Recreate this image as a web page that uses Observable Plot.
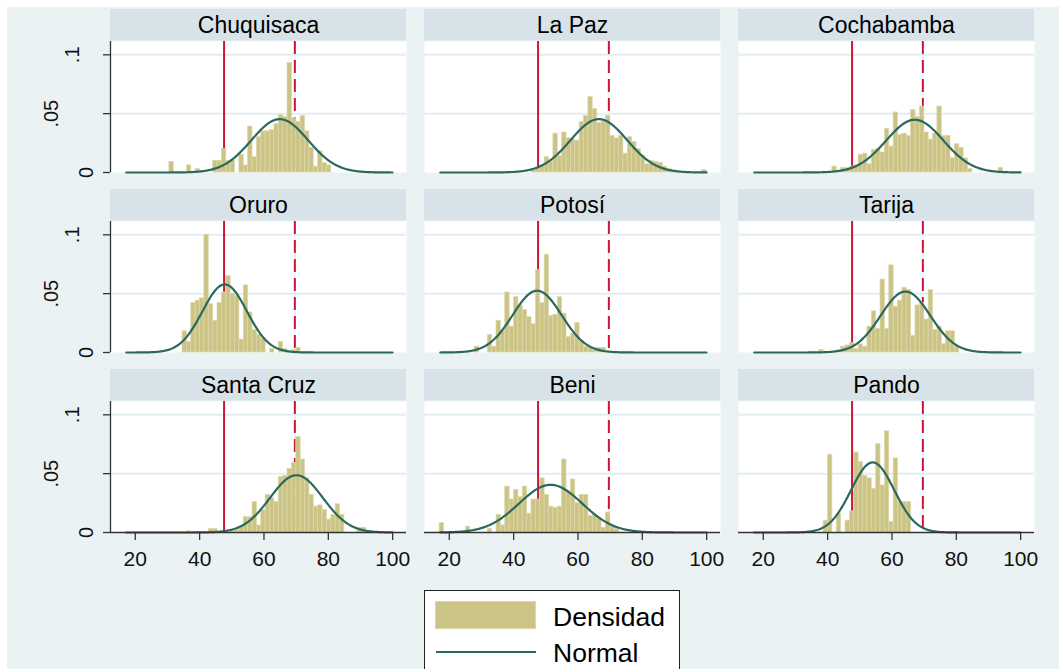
<!DOCTYPE html>
<html>
<head>
<meta charset="utf-8">
<script src="https://cdn.jsdelivr.net/npm/d3@7"></script>
<script src="https://cdn.jsdelivr.net/npm/@observablehq/plot@0.6"></script>
<style>
  html, body { margin: 0; padding: 0; background: #ffffff; width: 1059px; height: 669px; overflow: hidden; }
  #bg { position: absolute; left: 7px; top: 7px; width: 1052px; height: 662px; background: #eaf2f3; }
  #chart { position: absolute; left: 0; top: 0; }
  #legend { position: absolute; left: 424px; top: 590px; width: 254px; height: 90px; background: #fff; border: 1px solid #222;
            font-family: "Liberation Sans", Arial, sans-serif; }
  .sw { position: absolute; left: 10px; top: 10px; width: 101px; height: 28px; background: #ccc486; box-shadow: inset 0 0 0 1px #ddd8a8; }
  .ln { position: absolute; left: 11px; top: 60px; width: 100px; height: 0; border-top: 2.5px solid #29695e; }
  .lt { position: absolute; left: 128px; font-size: 26.5px; color: #000; line-height: 30px; }
</style>
</head>
<body>
<div id="bg"></div>
<div id="chart"></div>
<div id="legend">
  <div class="sw"></div><div class="lt" style="top:11px">Densidad</div>
  <div class="ln"></div><div class="lt" style="top:47px">Normal</div>
</div>
<script>
// ---------- data ----------
const departments = ["Chuquisaca", "La Paz", "Cochabamba", "Oruro", "Potosí", "Tarija", "Santa Cruz", "Beni", "Pando"];
const binStart = 17;
const binWidth = 1.36;
const firstBin = [10, 21, 18, 13, 8, 15, 14, 0, 16];

const densChuquisaca = [0.009,0,0,0,0.006,0,0.003,0,0,0,0.01,0.01,0.02,0.01,0.01,0,0.015,0.006,0.039,0.013,0.03,0.035,0.035,0.036,0.041,0.049,0.047,0.093,0.046,0.043,0.048,0.035,0.021,0.005,0.018,0.008,0.006];
const densLaPaz = [0.003,0.003,0.006,0.013,0.009,0.033,0.014,0.034,0.029,0.028,0.027,0.043,0.048,0.064,0.054,0.042,0.043,0.048,0.031,0.029,0.031,0.016,0.03,0.026,0.02,0.014,0.007,0.01,0.009,0.008,0.005,0.003,0.002,0,0,0,0,0,0,0.002];
const densCochabamba = [0.005,0,0.004,0.004,0.005,0.006,0.015,0.016,0.007,0.019,0.02,0.017,0.037,0.022,0.051,0.032,0.033,0.031,0.053,0.047,0.056,0.034,0.028,0.033,0.056,0.031,0.031,0.012,0.024,0.021,0.012,0.003,0,0,0,0,0,0,0.004];
const densOruro = [0.018,0.009,0.042,0.044,0.046,0.1,0.041,0.027,0.042,0.051,0.065,0.05,0.048,0.011,0.057,0.034,0.019,0.015,0.012,0,0.003,0,0.009,0.003,0,0.002,0.004];
const densPotosi = [0.005,0,0,0.015,0.005,0.027,0.018,0.051,0.022,0.047,0.04,0.036,0.03,0.024,0.07,0.042,0.083,0.031,0.032,0.047,0.033,0.013,0.016,0.025,0.009,0.005,0.004,0.002,0.004,0.004];
const densTarija = [0.002,0,0,0,0.002,0.005,0.006,0.008,0.003,0.007,0.005,0.022,0.035,0.02,0.062,0.02,0.074,0.039,0.044,0.055,0.053,0.014,0.04,0.042,0.028,0.053,0.019,0.022,0.007,0.018,0.018,0.005];
const densSantaCruz = [0.001,0,0,0,0,0.003,0.003,0,0,0,0.001,0.002,0.005,0.013,0.013,0.026,0.006,0.019,0.032,0.029,0.026,0.047,0.048,0.054,0.059,0.081,0.062,0.046,0.032,0.022,0.023,0.019,0.011,0.015,0.024,0.015,0,0,0,0.004,0.004];
const densBeni = [0.008,0,0,0,0,0,0.005,0,0,0,0,0.003,0,0.015,0.006,0.039,0.028,0.036,0.03,0.039,0.016,0.028,0.028,0.046,0.032,0.022,0.021,0.022,0.062,0.035,0.045,0.025,0.032,0.032,0.014,0.015,0.012,0.004,0.017,0.005,0.003];
const densPando = [0.01,0.066,0,0.016,0,0.01,0.018,0.068,0.06,0.048,0.046,0.037,0.075,0.04,0.086,0.009,0.063,0.026,0.026,0.026];

const normalMean = [64.9, 66.5, 67.1, 47.8, 47.3, 64.2, 70.1, 51.5, 54.0];
const normalSd   = [8.8, 8.8, 8.9, 6.9, 7.6, 7.7, 8.2, 9.85, 6.7];
const curveRange = [17.2, 100];

const cutoffSolid = 47.6;
const cutoffDashed = 69.6;

const xTicks = [20, 40, 60, 80, 100];
const yTicks = [0, 0.05, 0.1];
const yTickLabels = ["0", ".05", ".1"];
const xDomain = [12.3, 104.3];
const yDomain = [0, 0.1113];

// ---------- tables ----------
const densities = [densChuquisaca, densLaPaz, densCochabamba, densOruro, densPotosi, densTarija, densSantaCruz, densBeni, densPando];
const panels = departments.map((name, i) => ({name, col: i % 3, row: Math.floor(i / 3)}));
const leftPanels = panels.filter(p => p.col === 0);
const bottomPanels = panels.filter(p => p.row === 2);

const bars = [];
panels.forEach((p, i) => {
  densities[i].forEach((h, j) => {
    if (h > 0) {
      const b = firstBin[i] + j;
      bars.push({...p, x1: binStart + b * binWidth, x2: binStart + (b + 1) * binWidth, h});
    }
  });
});

const curve = [];
panels.forEach((p, i) => {
  const m = normalMean[i], s = normalSd[i];
  for (let x = curveRange[0]; x <= curveRange[1] + 1e-9; x += 0.25) {
    curve.push({...p, x, y: Math.exp(-0.5 * ((x - m) / s) ** 2) / (s * Math.sqrt(2 * Math.PI))});
  }
});

const grid = [];
panels.forEach(p => yTicks.filter(t => t > 0).forEach(t => grid.push({...p, t})));

// ---------- layout ----------
const W = 1059, H = 580;
const mTop = 41, mBottom = 47.7, mLeft = 109, mRight = 25.3;
const facetH = 131.1;
const perPx = (yDomain[1] - yDomain[0]) / facetH;
const headerY1 = yDomain[1] + 0.5 * perPx;
const headerY2 = yDomain[1] + 32 * perPx;

const font = "Liberation Sans, Arial, Helvetica, sans-serif";
const F = {fx: "col", fy: "row"};

const yLabel = (k, dx) => Plot.text(leftPanels, {...F, y: () => yTicks[k], text: () => yTickLabels[k],
  frameAnchor: "left", dx, rotate: -90, fontSize: 20, fill: "#111", textAnchor: "middle", lineAnchor: "middle"});

const chart = Plot.plot({
  width: W, height: H,
  marginTop: mTop, marginBottom: mBottom, marginLeft: mLeft, marginRight: mRight,
  style: {background: "transparent", fontFamily: font, overflow: "visible"},
  fx: {padding: 0.0583, axis: null},
  fy: {padding: 0.272, axis: null},
  x: {domain: xDomain},
  y: {domain: yDomain},
  marks: [
    Plot.frame({fill: "white", stroke: null}),
    Plot.rect(panels, {...F, x1: xDomain[0], x2: xDomain[1], y1: headerY1, y2: headerY2, fill: "#d8e3e9"}),
    Plot.text(panels, {...F, text: "name", frameAnchor: "top", lineAnchor: "middle", dy: -16, fontSize: 23, fill: "#000"}),
    Plot.ruleY(grid, {...F, y: "t", stroke: "#e4edf0", strokeWidth: 2}),
    Plot.ruleX(panels, {...F, x: () => cutoffSolid, stroke: "#cc1439", strokeWidth: 2}),
    Plot.ruleX(panels, {...F, x: () => cutoffDashed, stroke: "#cc1439", strokeWidth: 2, strokeDasharray: "13,6"}),
    Plot.rectY(bars, {...F, x1: "x1", x2: "x2", y: "h", fill: "#ccc486", stroke: "#ddd8a8", strokeWidth: 0.7}),
    Plot.line(curve, {...F, x: "x", y: "y", z: "name", stroke: "#29695e", strokeWidth: 2.2}),
    Plot.ruleX(leftPanels, {...F, x: () => xDomain[0], stroke: "#333", strokeWidth: 1.3}),
    Plot.ruleY(bottomPanels, {...F, y: () => 0, stroke: "#333", strokeWidth: 1.3}),
    Plot.axisY({ticks: yTicks, tickSize: 7, tickFormat: () => "", facetAnchor: "left", stroke: "#333", strokeWidth: 1.3}),
    Plot.axisX({ticks: xTicks, tickSize: 8, tickPadding: 11, fontSize: 21, facetAnchor: "bottom", stroke: "#333", strokeWidth: 1.3, fill: "#111"}),
    yLabel(0, -24),
    yLabel(1, -58.5),
    yLabel(2, -38)
  ]
});
document.getElementById("chart").appendChild(chart);
</script>
</body>
</html>
